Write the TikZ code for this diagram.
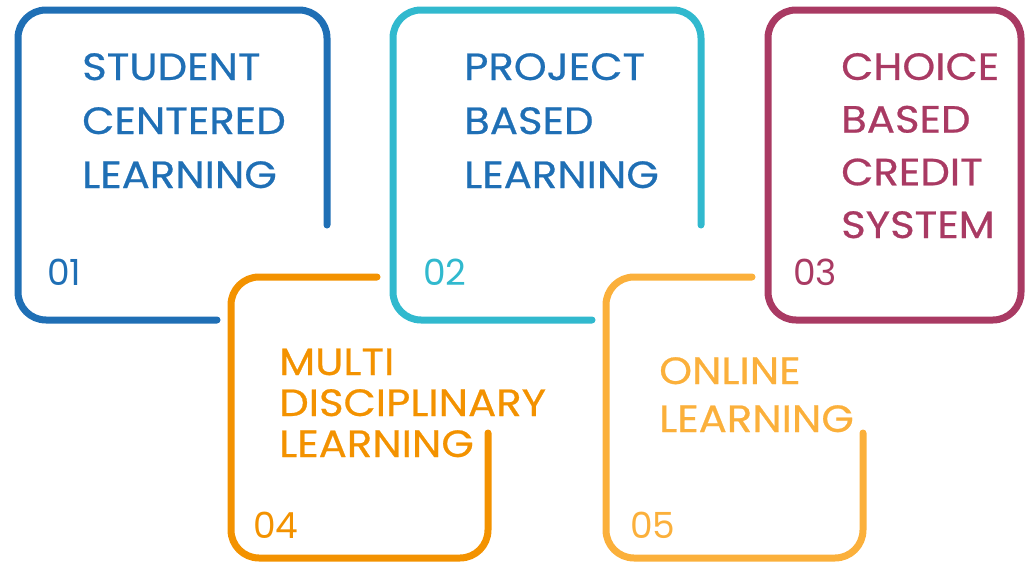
\documentclass[tikz,border=0pt]{standalone}
\usepackage{fontspec}
\setmainfont{Poppins}[FakeStretch=1.1, FakeBold=0.6]
\newfontfamily\numfont{Poppins}
\usepackage{tikz}
\definecolor{cblue}{HTML}{1F6FB5}
\definecolor{ccyan}{HTML}{31B9CE}
\definecolor{cwine}{HTML}{A93A63}
\definecolor{corange}{HTML}{F39200}
\definecolor{cyellow}{HTML}{FBB03B}

\begin{document}
\begin{tikzpicture}[x=1pt, y=-1pt,
    frame/.style={line width=7pt, line cap=round, rounded corners=28pt},
    title/.style={anchor=base west, align=left, inner sep=0pt},
    num/.style={anchor=base west, inner sep=0pt, font=\numfont\fontsize{36}{36}\selectfont}]
    \useasboundingbox (0,0) rectangle (1029,562);

    % frames
    \draw[frame, cblue] (217,320) -- (18,320) -- (18,10) -- (327,10) -- (327,225);
    \draw[frame, ccyan] (592,320) -- (393,320) -- (393,10) -- (701,10) -- (701,225);
    \draw[frame, cwine] (768,10) rectangle (1021,320);
    \draw[frame, corange] (377,277) -- (231,277) -- (231,558) -- (488,558) -- (488,433);
    \draw[frame, cyellow] (752,277) -- (606,277) -- (606,558) -- (863,558) -- (863,433);

    % titles (anchored at the last line)
    \node (student) [title, cblue, font=\fontsize{38}{54}\selectfont] at (82,188)
        {STUDENT\\CENTERED\\LEARNING};
    \node (project) [title, cblue, font=\fontsize{38}{54}\selectfont] at (464,188)
        {PROJECT\\BASED\\LEARNING};
    \node (choice) [title, cwine, font=\fontsize{38}{52.7}\selectfont] at (841,238)
        {CHOICE\\BASED\\CREDIT\\SYSTEM};
    \node (multi) [title, corange, font=\fontsize{38}{41}\selectfont] at (279,457)
        {MULTI\\DISCIPLINARY\\LEARNING};
    \node (online) [title, cyellow, font=\fontsize{38}{48}\selectfont] at (659,432)
        {ONLINE\\LEARNING};

    % numbers
    \node (n1) [num, cblue] at (47,285) {01};
    \node (n2) [num, ccyan] at (423,285) {02};
    \node (n3) [num, cwine] at (793,285) {03};
    \node (n4) [num, corange] at (253,538) {04};
    \node (n5) [num, cyellow] at (630,538) {05};
\end{tikzpicture}
\end{document}
